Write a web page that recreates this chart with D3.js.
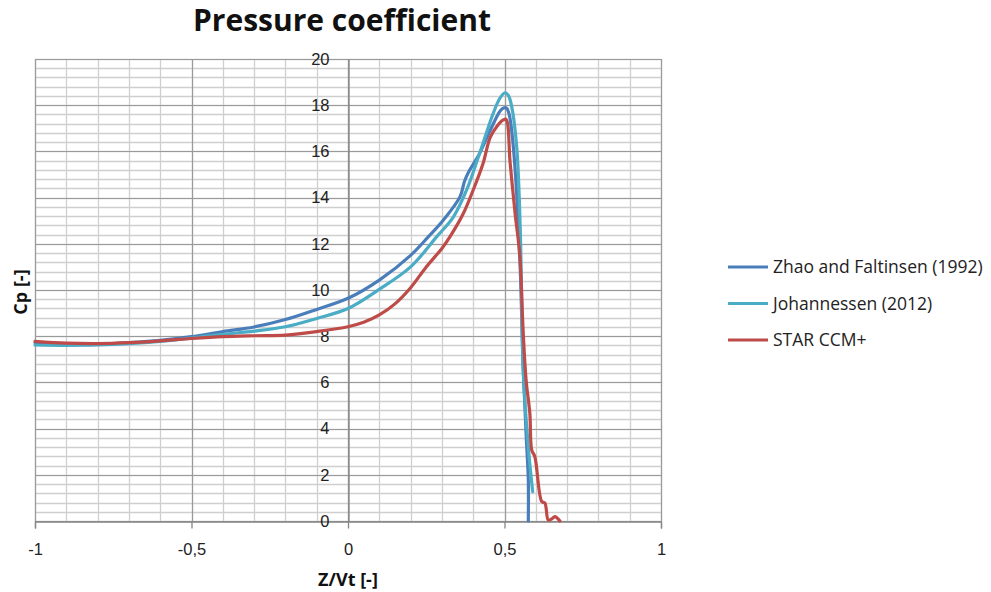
<!DOCTYPE html>
<html>
<head>
<meta charset="utf-8">
<script src="https://cdn.jsdelivr.net/npm/d3@7"></script>
<style>
  body { margin: 0; background: #fff; }
  svg { font-family: "Open Sans", "DejaVu Sans", sans-serif; }
</style>
</head>
<body>
<div id="chart"></div>
<script>

// series values

var zhaoX = [-1, -0.9, -0.85, -0.8, -0.7, -0.6, -0.5, -0.4, -0.3, -0.2, -0.1, 0, 0.1, 0.2, 0.257, 0.305, 0.358, 0.372, 0.385, 0.42, 0.454, 0.486, 0.497, 0.507, 0.515, 0.523, 0.535, 0.55, 0.56, 0.57, 0.576, 0.576];
var zhaoY = [7.72, 7.65, 7.63, 7.65, 7.72, 7.82, 7.98, 8.2, 8.4, 8.72, 9.16, 9.64, 10.43, 11.5, 12.31, 13.03, 14.04, 14.7, 15.1, 15.9, 16.9, 17.75, 17.88, 17.87, 17.6, 16.9, 15.0, 11.0, 6.5, 3.5, 1.8, 0];

var johanX = [-1, -0.9, -0.8, -0.7, -0.6, -0.5, -0.4, -0.3, -0.2, -0.1, 0, 0.1, 0.2, 0.283, 0.337, 0.379, 0.42, 0.464, 0.485, 0.502, 0.513, 0.523, 0.539, 0.55, 0.56, 0.576, 0.59];
var johanY = [7.62, 7.6, 7.62, 7.68, 7.78, 7.92, 8.08, 8.22, 8.41, 8.77, 9.2, 10.03, 11.0, 12.3, 13.17, 14.33, 15.9, 17.65, 18.3, 18.54, 18.4, 17.94, 16.2, 12.8, 6.5, 3.2, 1.27];

var starX = [-1, -0.9, -0.8, -0.7, -0.6, -0.5, -0.4, -0.3, -0.2, -0.1, 0, 0.05, 0.1, 0.15, 0.2, 0.25, 0.3, 0.326, 0.368, 0.4, 0.432, 0.454, 0.475, 0.496, 0.505, 0.518, 0.534, 0.544, 0.55, 0.56, 0.569, 0.581, 0.587, 0.597, 0.619, 0.629, 0.64, 0.652, 0.661, 0.677];
var starY = [7.78, 7.7, 7.68, 7.72, 7.8, 7.9, 7.98, 8.02, 8.05, 8.2, 8.41, 8.6, 8.92, 9.4, 10.1, 11.0, 11.8, 12.31, 13.3, 14.33, 15.5, 16.6, 17.07, 17.36, 17.39, 15.5, 13.3, 12.16, 11.3, 8.1, 6.1, 4.66, 3.07, 2.78, 0.84, 0.78, 0.04, 0.1, 0.19, 0];

var seriesNames = ["Zhao and Faltinsen (1992)", "Johannessen (2012)", "STAR CCM+"];
var seriesColors = ["#4a7ebb", "#4bacc6", "#be4b48"];

var xTicks = [-1, -0.5, 0, 0.5, 1];
var yTicks = [0, 2, 4, 6, 8, 10, 12, 14, 16, 18, 20];


// chart size and margins

var svgWidth = 991;
var svgHeight = 592;

var margin = { top: 59, right: 330, bottom: 71, left: 35 };

var width = svgWidth - margin.left - margin.right;
var height = svgHeight - margin.top - margin.bottom;

var svg = d3.select("#chart")
	.append("svg")
	.attr("width", svgWidth)
	.attr("height", svgHeight);

var chartGroup = svg.append("g")
	.attr("transform", `translate(${margin.left}, ${margin.top})`);

// scales

var xLinearScale = d3.scaleLinear().domain([-1, 1]).range([0, width]);
var yLinearScale = d3.scaleLinear().domain([0, 20]).range([height, 0]);

// minor grid lines (0.1 on x, 0.4 on y)

var xMinor = d3.range(-10, 11).map(d => d / 10);
var yMinor = d3.range(0, 51).map(d => d * 0.4);

chartGroup.selectAll(".vminor")
	.data(xMinor)
	.enter()
	.append("line")
	.attr("x1", d => Math.round(xLinearScale(d)) + 0.5)
	.attr("x2", d => Math.round(xLinearScale(d)) + 0.5)
	.attr("y1", 0)
	.attr("y2", height)
	.attr("stroke", "#cfcfcf")
	.attr("stroke-width", 1.3);

chartGroup.selectAll(".hminor")
	.data(yMinor)
	.enter()
	.append("line")
	.attr("x1", 0)
	.attr("x2", width)
	.attr("y1", d => Math.round(yLinearScale(d)) + 0.5)
	.attr("y2", d => Math.round(yLinearScale(d)) + 0.5)
	.attr("stroke", "#cfcfcf")
	.attr("stroke-width", 1.3);

// major grid lines

chartGroup.selectAll(".vmajor")
	.data(xTicks)
	.enter()
	.append("line")
	.attr("x1", d => Math.round(xLinearScale(d)) + 0.5)
	.attr("x2", d => Math.round(xLinearScale(d)) + 0.5)
	.attr("y1", 0)
	.attr("y2", height)
	.attr("stroke", "#9a9a9a")
	.attr("stroke-width", 1.2);

chartGroup.selectAll(".hmajor")
	.data(yTicks)
	.enter()
	.append("line")
	.attr("x1", 0)
	.attr("x2", width)
	.attr("y1", d => Math.round(yLinearScale(d)) + 0.5)
	.attr("y2", d => Math.round(yLinearScale(d)) + 0.5)
	.attr("stroke", "#9a9a9a")
	.attr("stroke-width", 1.2);

// x axis at y = 0

var bottomAxis = d3.axisBottom(xLinearScale)
	.tickValues(xTicks)
	.tickSize(7)
	.tickFormat(d => String(d).replace(".", ","));

var xAxis = chartGroup.append("g")
	.attr("transform", `translate(0, ${Math.round(yLinearScale(0)) + 0.5})`)
	.call(bottomAxis);

xAxis.select(".domain").attr("stroke", "#868686").attr("stroke-width", 1.3);
xAxis.selectAll(".tick line").attr("stroke", "#868686").attr("stroke-width", 1.3);
xAxis.selectAll(".tick text")
	.attr("dy", "1.4em")
	.style("font-size", "16.5px")
	.attr("fill", "#222");

// y axis at x = 0

var leftAxis = d3.axisLeft(yLinearScale)
	.tickValues(yTicks)
	.tickSize(0)
	.tickPadding(19);

var yAxis = chartGroup.append("g")
	.attr("transform", `translate(${Math.round(xLinearScale(0)) + 0.5}, 0)`)
	.call(leftAxis);

yAxis.select(".domain").attr("stroke", "#868686").attr("stroke-width", 1.3);
yAxis.selectAll(".tick text")
	.style("font-size", "16.5px")
	.attr("fill", "#222");

// lines

var seriesData = [
	d3.zip(zhaoX, zhaoY),
	d3.zip(johanX, johanY),
	d3.zip(starX, starY)
];

var lineGen = d3.line()
	.x(d => xLinearScale(d[0]))
	.y(d => yLinearScale(d[1]))
	.curve(d3.curveCatmullRom.alpha(0.5));

seriesData.forEach(function(points, i) {
	chartGroup.append("path")
		.datum(points)
		.attr("fill", "none")
		.attr("stroke", seriesColors[i])
		.attr("stroke-width", 3.2)
		.attr("stroke-linejoin", "round")
		.attr("stroke-linecap", "round")
		.attr("d", lineGen);
});

// title

svg.append("text")
	.attr("x", 342)
	.attr("y", 31)
	.attr("text-anchor", "middle")
	.style("font-size", "30px")
	.style("font-weight", "bold")
	.attr("fill", "#111")
	.text("Pressure coefficient");

// axis titles

svg.append("text")
	.attr("x", 348)
	.attr("y", 586)
	.attr("text-anchor", "middle")
	.style("font-size", "18px")
	.style("font-weight", "bold")
	.attr("fill", "#111")
	.text("Z/Vt [-]");

svg.append("text")
	.attr("transform", "translate(27, 292) rotate(-90)")
	.attr("text-anchor", "middle")
	.style("font-size", "18px")
	.style("font-weight", "bold")
	.attr("fill", "#111")
	.text("Cp [-]");

// legend

var legend = svg.append("g")
	.attr("transform", "translate(728, 267)");

seriesNames.forEach(function(name, i) {
	var row = legend.append("g")
		.attr("transform", `translate(0, ${i * 36.5})`);
	row.append("line")
		.attr("x1", 0)
		.attr("x2", 40)
		.attr("y1", 0)
		.attr("y2", 0)
		.attr("stroke", seriesColors[i])
		.attr("stroke-width", 3.2);
	row.append("text")
		.attr("x", 45)
		.attr("y", 0)
		.attr("dy", "0.36em")
		.style("font-size", "17.5px")
		.attr("fill", "#222")
		.text(name);
});

</script>
</body>
</html>
